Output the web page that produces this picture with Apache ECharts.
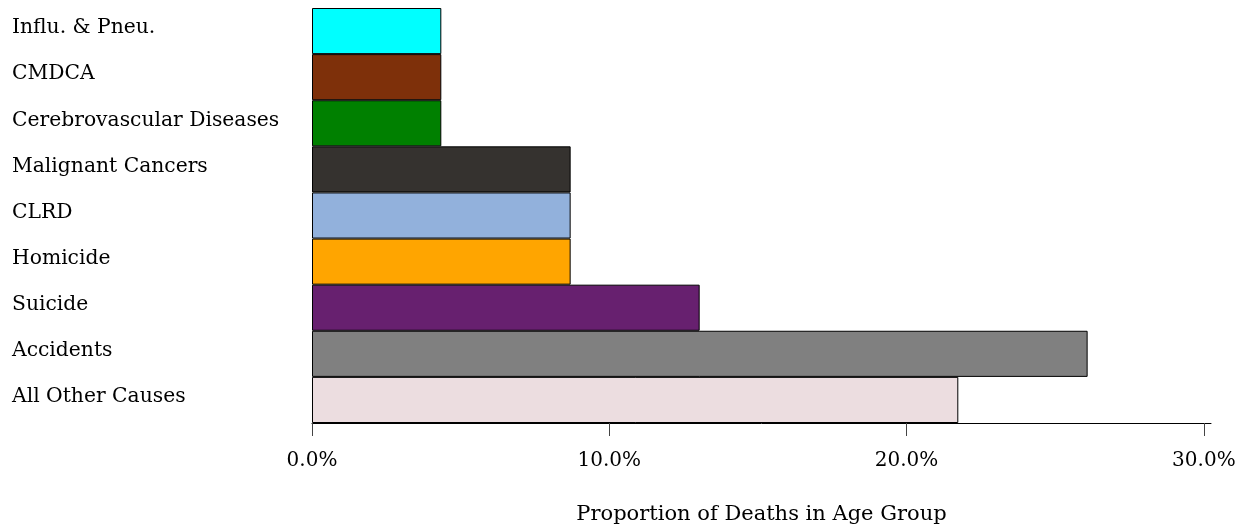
<!DOCTYPE html>
<html>
<head>
<meta charset="utf-8">
<script src="https://cdn.jsdelivr.net/npm/echarts@6/dist/echarts.min.js"></script>
<style>html,body{margin:0;padding:0;background:#fff;}#c{width:1244px;height:527px;}</style>
</head>
<body>
<div id="c"></div>
<script>
const categories = ["Influ. & Pneu.", "CMDCA", "Cerebrovascular Diseases", "Malignant Cancers", "CLRD", "Homicide", "Suicide", "Accidents", "All Other Causes"];
const values = [4.35, 4.35, 4.35, 8.70, 8.70, 8.70, 13.04, 26.09, 21.74];
const colors = ["#00FFFF", "#7E300A", "#008000", "#35322F", "#92B1DC", "#FFA500", "#67206F", "#808080", "#ECDDE0"];
const xTicks = [0, 10, 20, 30];
const xTitle = "Proportion of Deaths in Age Group";

const font = "DejaVu Serif";
const chart = echarts.init(document.getElementById('c'), null, {renderer: 'canvas'});
chart.setOption({
  animation: false,
  backgroundColor: '#fff',
  grid: {left: 312, right: 33, top: 8, bottom: 104, containLabel: false, outerBoundsMode: 'none'},
  xAxis: {
    type: 'value', min: 0, max: 30.24,
    name: xTitle, nameLocation: 'middle', nameGap: 81,
    nameTextStyle: {fontFamily: font, fontSize: 21, color: '#000'},
    axisLine: {show: true, lineStyle: {color: '#000', width: 1}},
    axisTick: {show: true, length: 13, customValues: xTicks, lineStyle: {color: '#444'}},
    axisLabel: {customValues: xTicks, margin: 28, fontFamily: font, fontSize: 20, color: '#000',
      formatter: v => v.toFixed(1) + '%'},
    splitLine: {show: false}
  },
  yAxis: {
    type: 'category', data: categories, inverse: true,
    axisLine: {show: false}, axisTick: {show: false},
    axisLabel: {align: 'left', verticalAlign: 'bottom', lineHeight: 6, margin: 300, fontFamily: font, fontSize: 20.3, color: '#000'}
  },
  series: [{
    type: 'bar',
    data: values.map((v, i) => ({value: v, itemStyle: {color: colors[i]}})),
    barCategoryGap: '0%',
    itemStyle: {borderColor: '#000', borderWidth: 1}
  }]
});
</script>
</body>
</html>
